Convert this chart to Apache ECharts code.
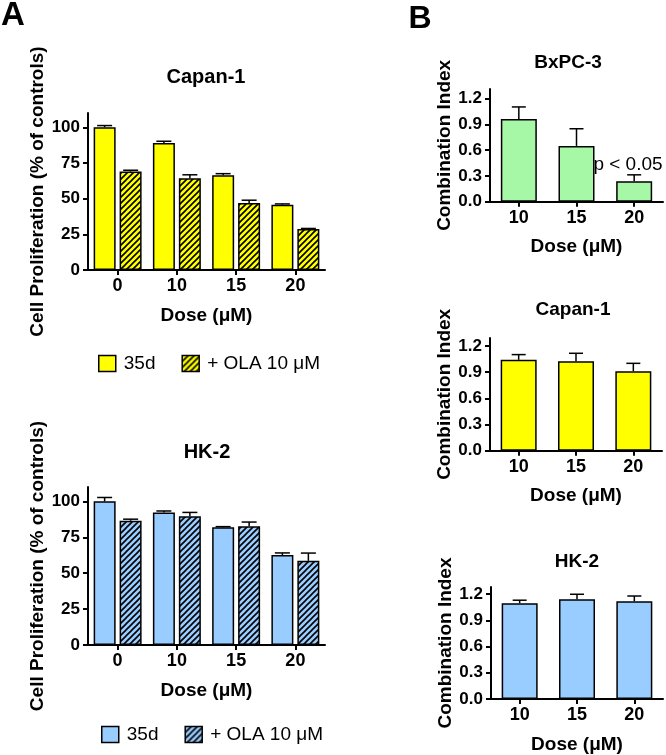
<!DOCTYPE html>
<html>
<head>
<meta charset="utf-8">
<script src="https://cdn.jsdelivr.net/npm/echarts@6/dist/echarts.min.js"></script>
<style>
html,body{margin:0;padding:0;background:#fff;}
#c{width:666px;height:755px;}
</style>
</head>
<body>
<div id="c"></div>
<script>
// ---- data ----
const doseA = ['0', '10', '15', '20'];
const capanA_35d = [100, 89, 66.3, 45.8];
const capanA_35d_err = [1.2, 1.2, 1.2, 0.5];
const capanA_ola = [69, 64.2, 46.9, 28.8];
const capanA_ola_err = [0.9, 2.5, 2, 0.3];
const hkA_35d = [100, 92.3, 81.9, 62.6];
const hkA_35d_err = [2.7, 1, 0.5, 1.5];
const hkA_ola = [86.5, 89.6, 82.6, 58.6];
const hkA_ola_err = [1.1, 2.7, 3, 5.4];
const doseB = ['10', '15', '20'];
const bxpcCI = [0.964, 0.65, 0.238];
const bxpcCI_err = [0.14, 0.2, 0.075];
const capanCI = [1.04, 1.025, 0.91];
const capanCI_err = [0.06, 0.09, 0.09];
const hkCI = [1.094, 1.14, 1.117];
const hkCI_err = [0.035, 0.057, 0.06];
const yTicksA = [0, 25, 50, 75, 100];
const yTicksB = [0, 0.3, 0.6, 0.9, 1.2];

// ---- styles ----
const FONT = "'Liberation Sans', Arial, sans-serif";
const YELLOW = '#FFFF00';
const BLUE = '#99CCFF';
const GREEN = '#A6F7A6';

function hatch(bg) {
  const s = 6;
  const cv = document.createElement('canvas');
  cv.width = s; cv.height = s;
  const ctx = cv.getContext('2d');
  ctx.fillStyle = bg; ctx.fillRect(0, 0, s, s);
  ctx.strokeStyle = '#000'; ctx.lineWidth = 1.6;
  ctx.beginPath();
  ctx.moveTo(-1, s + 1); ctx.lineTo(s + 1, -1);
  ctx.moveTo(-1, 1); ctx.lineTo(1, -1);
  ctx.moveTo(s - 1, s + 1); ctx.lineTo(s + 1, s - 1);
  ctx.stroke();
  return { image: cv, repeat: 'repeat' };
}

function errRender(offset, capW) {
  return function (params, api) {
    const x = api.value(0), v = api.value(1), e = api.value(2);
    const p0 = api.coord([x, v]);
    const p1 = api.coord([x, v + e]);
    const cx = p0[0] + offset;
    const st = { stroke: '#000', lineWidth: 1.5 };
    return {
      type: 'group',
      children: [
        { type: 'line', shape: { x1: cx, y1: p0[1], x2: cx, y2: p1[1] }, style: st },
        { type: 'line', shape: { x1: cx - capW / 2, y1: p1[1], x2: cx + capW / 2, y2: p1[1] }, style: st }
      ]
    };
  };
}
function errData(vals, errs) { return vals.map((v, i) => [i, v, errs[i]]); }

const grids = [
  { left: 88, top: 113, width: 237, height: 157 },
  { left: 88, top: 487, width: 237, height: 158 },
  { left: 490, top: 89, width: 173, height: 112.7 },
  { left: 490, top: 338, width: 172, height: 112.7 },
  { left: 491, top: 587, width: 172, height: 112.3 }
];

const axisLineStyle = { show: true, lineStyle: { color: '#000', width: 2 } };
function xAxisFor(gi, cats) {
  return {
    type: 'category', gridIndex: gi, data: cats,
    axisLine: axisLineStyle,
    axisTick: { show: true, alignWithLabel: true, length: 5, lineStyle: { color: '#000', width: 2 } },
    axisLabel: { color: '#000', fontFamily: FONT, fontWeight: 'bold', fontSize: 18, margin: 7 },
    name: 'Dose (\u03bcM)', nameLocation: 'middle', nameGap: 36,
    nameTextStyle: { color: '#000', fontFamily: FONT, fontWeight: 'bold', fontSize: 19 }
  };
}
function yAxisFor(gi, max, ticks, name, gap, dec) {
  return {
    type: 'value', gridIndex: gi, min: 0, max: max,
    axisLine: axisLineStyle,
    splitLine: { show: false },
    axisTick: { show: true, length: 5, customValues: ticks, lineStyle: { color: '#000', width: 2 } },
    axisLabel: {
      customValues: ticks, color: '#000', fontFamily: FONT, fontWeight: 'bold', fontSize: 17, margin: 8,
      formatter: v => dec ? Number(v).toFixed(1) : String(v)
    },
    name: name, nameLocation: 'middle', nameRotate: 90, nameGap: gap,
    nameTextStyle: { color: '#000', fontFamily: FONT, fontWeight: 'bold', fontSize: 19 }
  };
}

const barBorder = { borderColor: '#000', borderWidth: 1.5 };
const series = [];
// Panel A top (Capan-1)
series.push({ type: 'bar', name: 'Capan 35d', xAxisIndex: 0, yAxisIndex: 0, data: capanA_35d, barWidth: 22, barGap: '18%', itemStyle: Object.assign({ color: YELLOW }, barBorder) });
series.push({ type: 'bar', name: 'Capan + OLA 10 \u03bcM', xAxisIndex: 0, yAxisIndex: 0, data: capanA_ola, barWidth: 22, barGap: '18%', itemStyle: Object.assign({ color: hatch(YELLOW) }, barBorder) });
series.push({ type: 'custom', xAxisIndex: 0, yAxisIndex: 0, data: errData(capanA_35d, capanA_35d_err), renderItem: errRender(-13, 15), z: 5, silent: true });
series.push({ type: 'custom', xAxisIndex: 0, yAxisIndex: 0, data: errData(capanA_ola, capanA_ola_err), renderItem: errRender(13, 15), z: 5, silent: true });
// Panel A bottom (HK-2)
series.push({ type: 'bar', name: 'HK 35d', xAxisIndex: 1, yAxisIndex: 1, data: hkA_35d, barWidth: 22, barGap: '18%', itemStyle: Object.assign({ color: BLUE }, barBorder) });
series.push({ type: 'bar', name: 'HK + OLA 10 \u03bcM', xAxisIndex: 1, yAxisIndex: 1, data: hkA_ola, barWidth: 22, barGap: '18%', itemStyle: Object.assign({ color: hatch(BLUE) }, barBorder) });
series.push({ type: 'custom', xAxisIndex: 1, yAxisIndex: 1, data: errData(hkA_35d, hkA_35d_err), renderItem: errRender(-13, 15), z: 5, silent: true });
series.push({ type: 'custom', xAxisIndex: 1, yAxisIndex: 1, data: errData(hkA_ola, hkA_ola_err), renderItem: errRender(13, 15), z: 5, silent: true });
// Panel B
const bSets = [[bxpcCI, bxpcCI_err, GREEN], [capanCI, capanCI_err, YELLOW], [hkCI, hkCI_err, BLUE]];
bSets.forEach((s, k) => {
  const gi = 2 + k;
  series.push({ type: 'bar', name: 'CI' + k, xAxisIndex: gi, yAxisIndex: gi, data: s[0], barWidth: 36, itemStyle: Object.assign({ color: s[2] }, barBorder) });
  series.push({ type: 'custom', xAxisIndex: gi, yAxisIndex: gi, data: errData(s[0], s[1]), renderItem: errRender(0, 14), z: 5, silent: true });
});

const legendCommon = {
  orient: 'horizontal', itemWidth: 17, itemHeight: 16, itemGap: 26, icon: 'rect',
  itemStyle: { borderColor: '#000', borderWidth: 1.5 },
  textStyle: { color: '#000', fontFamily: FONT, fontSize: 19, padding: [0, 0, 0, 3] },
  formatter: n => n.replace(/^(Capan|HK) /, ''),
  selectedMode: false
};

function txt(text, x, y, size, weight) {
  return {
    type: 'text', x: x, y: y,
    style: { text: text, fill: '#000', font: (weight || 'bold') + ' ' + size + 'px ' + FONT,
      align: 'center', verticalAlign: 'middle', textAlign: 'center', textVerticalAlign: 'middle' }
  };
}

const option = {
  animation: false,
  backgroundColor: '#fff',
  grid: grids,
  xAxis: [xAxisFor(0, doseA), xAxisFor(1, doseA), xAxisFor(2, doseB), xAxisFor(3, doseB), xAxisFor(4, doseB)],
  yAxis: [
    yAxisFor(0, 110, yTicksA, 'Cell Proliferation (% of controls)', 41, false),
    yAxisFor(1, 110, yTicksA, 'Cell Proliferation (% of controls)', 41, false),
    yAxisFor(2, 1.313, yTicksB, 'Combination Index', 34, true),
    yAxisFor(3, 1.29, yTicksB, 'Combination Index', 34, true),
    yAxisFor(4, 1.28, yTicksB, 'Combination Index', 35, true)
  ],
  legend: [
    Object.assign({ left: 93, top: 349, data: ['Capan 35d', 'Capan + OLA 10 \u03bcM'] }, legendCommon),
    Object.assign({ left: 96, top: 720, data: ['HK 35d', 'HK + OLA 10 \u03bcM'] }, legendCommon)
  ],
  series: series,
  graphic: [
    txt('A', 13, 16, 33),
    txt('B', 420, 19, 32),
    txt('Capan-1', 206, 77, 20),
    txt('HK-2', 207, 452, 20),
    txt('BxPC-3', 568, 63, 19),
    txt('Capan-1', 573, 310, 19),
    txt('HK-2', 577, 562, 19),
    txt('p < 0.05', 628, 165, 19, 'normal')
  ]
};

const chart = echarts.init(document.getElementById('c'), null, { renderer: 'canvas' });
chart.setOption(option);
</script>
</body>
</html>
